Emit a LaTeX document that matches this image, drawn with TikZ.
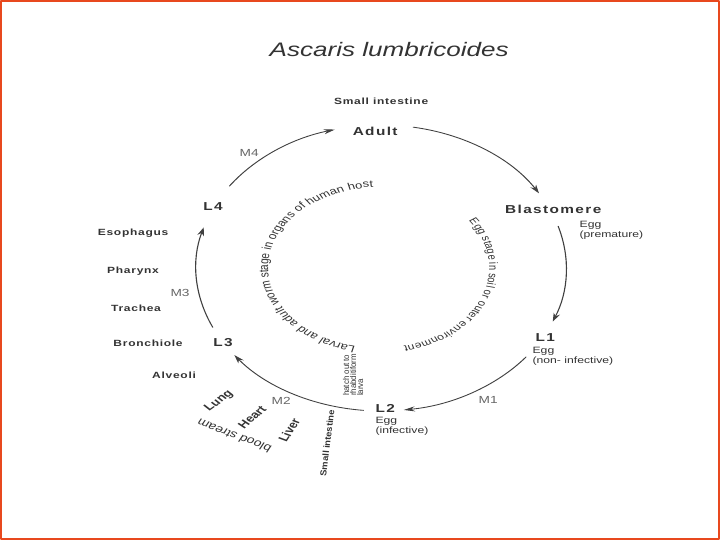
\documentclass[tikz,border=0pt]{standalone}
\usepackage{fontspec}
\setmainfont{Liberation Sans}
\newfontfamily\stagefont{Liberation Sans}[LetterSpace=9]
\newfontfamily\organfont{Liberation Sans}[LetterSpace=6]
\usetikzlibrary{arrows.meta, decorations.text}
\definecolor{txt}{HTML}{333333}
\definecolor{ln}{HTML}{404040}
\definecolor{brdr}{HTML}{E8481E}
\tikzset{
  stagelbl/.style={font=\stagefont\bfseries\fontsize{8.2}{9}\selectfont, text=txt, inner sep=0pt},
  organlbl/.style={font=\organfont\bfseries\fontsize{6.4}{7}\selectfont, text=txt, inner sep=0pt},
  egglbl/.style={font=\fontsize{6.5}{7.4}\selectfont, text=txt, align=left, inner sep=0pt, anchor=north west},
  moltlbl/.style={font=\fontsize{7.3}{8}\selectfont, text=txt!75, inner sep=0pt},
  hostlbl/.style={font=\bfseries\fontsize{7.3}{8}\selectfont, text=txt, inner sep=0pt},
  cycarrow/.style={draw=ln, line width=0.6pt, -{Stealth[length=6pt,width=3.6pt]}},
}
\begin{document}
\begin{tikzpicture}[x=0.025cm, y=0.025cm, line join=round, line cap=round]
\useasboundingbox (0,0) rectangle (720,-540);
\draw[brdr, line width=1.5pt] (1,-1) rectangle (719,-539);
% the slide is stretched sideways
\begin{scope}[x=0.01875cm, transform canvas={xscale=1.33333}]
  \node[font=\itshape\fontsize{13.9}{16}\selectfont, text=txt] (title) at (389,-50) {Ascaris lumbricoides};
  % stages
  \node[organlbl] (smint) at (381,-101) {Small intestine};
  \node[stagelbl] (adult) at (375,-131) {Adult};
  \node[stagelbl] (blast) at (553,-209) {Blastomere};
  \node[stagelbl] (l1) at (545,-338) {L1};
  \node[stagelbl] (l2) at (385,-408) {L2};
  \node[stagelbl] (l3) at (223,-343) {L3};
  \node[stagelbl] (l4) at (213,-207) {L4};
  \node[egglbl] (eggpre) at (579,-221) {Egg\\(premature)};
  \node[egglbl] (eggnon) at (532,-347) {Egg\\(non- infective)};
  \node[egglbl] (egginf) at (375,-417) {Egg\\(infective)};
  % moults
  \node[moltlbl] (m1) at (488,-400) {M1};
  \node[moltlbl] (m2) at (281,-401) {M2};
  \node[moltlbl] (m3) at (180,-293) {M3};
  \node[moltlbl] (m4) at (249,-153) {M4};
  % migration route
  \node[organlbl] (esoph) at (133,-233) {Esophagus};
  \node[organlbl] (phar) at (133,-271) {Pharynx};
  \node[organlbl] (trach) at (136,-308) {Trachea};
  \node[organlbl] (bronch) at (148,-343) {Bronchiole};
  \node[organlbl] (alv) at (174,-375) {Alveoli};
  \node[hostlbl, rotate=43.6] (lung) at (219,-401) {Lung};
  \node[hostlbl, rotate=48.8] (heart) at (252,-417) {Heart};
  \node[hostlbl, rotate=64] (liver) at (289,-430) {Liver};
  \node[font=\fontsize{7.5}{9}\selectfont, text=txt, inner sep=0pt, rotate=153.4] (blood) at (234,-436) {blood stream};
  \node[font=\bfseries\fontsize{6.7}{7}\selectfont, text=txt, inner sep=0pt, rotate=84.5, yscale=0.7] (smint2) at (327,-443) {Small intestine};
  \node[font=\fontsize{5.6}{4.7}\selectfont, text=txt, align=left, inner sep=0pt, rotate=90, yscale=0.8] (hatch) at (353,-375) {hatch out to\\rhabditiform\\larva};
  \begin{scope}[shift={(381,-268)}]
    % outer cycle, radii 185 and 143
    \foreach \s/\e [count=\i] in {145/104.5, 80/31.5, 17/-22, -38.5/-83, -95.5/-142.5, -155.5/-196.5}{
      \coordinate (arc\i) at (\s:185 and 143);
      \draw[cycarrow] (arc\i) arc[start angle=\s, end angle=\e, x radius=185, y radius=143];
    }
    % inner captions
    \coordinate (hostcap) at (257:113 and 81);
    \coordinate (soilcap) at (36:108 and 80);
    \path[decorate, decoration={text along path, text color=txt, text align=fit to path,
      text={|\fontsize{7}{8}\selectfont|Larval and adult worm stage in organs of human host}}]
      (hostcap) arc[start angle=257, end angle=94, x radius=113, y radius=81];
    \path[decorate, decoration={text along path, text color=txt, text align=fit to path,
      text={|\fontsize{6.5}{8}\selectfont|Egg stage in soil or outer environment}}]
      (soilcap) arc[start angle=36, end angle=-78, x radius=108, y radius=80];
  \end{scope}
\end{scope}
\end{tikzpicture}
\end{document}
